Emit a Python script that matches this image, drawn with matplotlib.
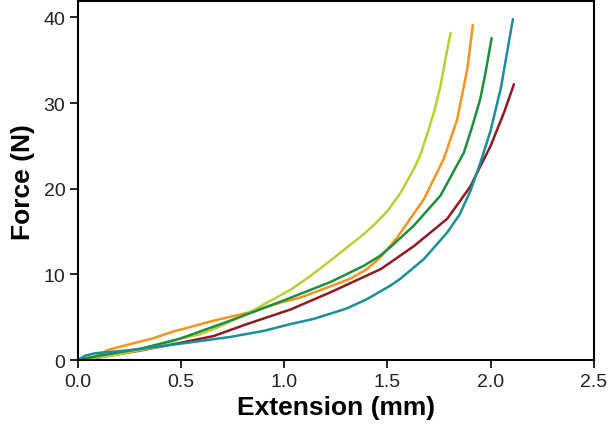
import matplotlib.pyplot as plt

plt.rcParams['font.family'] = ['Liberation Sans', 'DejaVu Sans']

# Extension (mm) / Force (N)
x_yellow = [0.0, 0.155, 0.40, 0.495, 0.59, 0.657, 0.82, 0.916, 1.03, 1.126, 1.223,
            1.385, 1.44, 1.50, 1.563, 1.63, 1.66, 1.69, 1.725, 1.757, 1.78, 1.806]
y_yellow = [0.0, 0.5, 1.6, 2.5, 3.0, 3.6, 5.4, 6.7, 8.2, 9.8, 11.6,
            14.7, 15.9, 17.4, 19.5, 22.4, 24.0, 26.2, 28.9, 32.0, 35.0, 38.2]

x_orange = [0.0, 0.08, 0.147, 0.26, 0.358, 0.471, 0.52, 0.657, 0.819, 0.98, 1.078, 1.223,
            1.32, 1.40, 1.466, 1.547, 1.677, 1.773, 1.838, 1.887, 1.914]
y_orange = [0.0, 0.4, 1.2, 1.9, 2.5, 3.4, 3.7, 4.6, 5.5, 6.7, 7.3, 8.6,
            9.5, 10.6, 12.0, 14.3, 18.8, 23.5, 28.1, 34.0, 39.1]

x_green = [0.0, 0.1, 0.3, 0.495, 0.738, 0.98, 1.223, 1.385, 1.466, 1.515, 1.628,
           1.757, 1.87, 1.91, 1.95, 1.975, 2.005]
y_green = [0.0, 0.5, 1.3, 2.5, 4.6, 6.8, 9.1, 11.0, 12.2, 13.2, 15.7,
           19.2, 24.2, 27.2, 30.5, 33.5, 37.6]

x_maroon = [0.0, 0.1, 0.3, 0.495, 0.657, 0.819, 1.03, 1.223, 1.466, 1.515, 1.628,
            1.79, 1.903, 1.935, 2.0, 2.065, 2.113]
y_maroon = [0.0, 0.3, 1.1, 2.0, 2.8, 4.2, 5.9, 7.9, 10.6, 11.4, 13.3,
            16.5, 20.3, 21.9, 25.0, 28.9, 32.2]

x_teal = [0.0, 0.034, 0.083, 0.228, 0.495, 0.738, 0.9, 1.03, 1.142, 1.30, 1.40, 1.515,
          1.563, 1.677, 1.79, 1.85, 1.903, 1.95, 2.0, 2.05, 2.108]
y_teal = [0.0, 0.5, 0.8, 1.1, 1.9, 2.7, 3.4, 4.2, 4.8, 6.0, 7.1, 8.7,
          9.5, 11.8, 14.9, 17.0, 19.8, 23.0, 26.8, 31.8, 39.8]

series = [
    (x_maroon, y_maroon, '#8c1c22'),
    (x_orange, y_orange, '#f7941e'),
    (x_yellow, y_yellow, '#bccf32'),
    (x_green, y_green, '#1b8f3f'),
    (x_teal, y_teal, '#1b8e98'),
]

fig = plt.figure(figsize=(6.09, 4.35), dpi=100)
ax = fig.add_axes([0.128, 0.170, 0.847, 0.825])

for xs, ys, c in series:
    ax.plot(xs, ys, color=c, lw=1.8, solid_capstyle='round', solid_joinstyle='round')

ax.set_xlim(0, 2.5)
ax.set_ylim(0, 41.9)
ax.set_xticks([0.0, 0.5, 1.0, 1.5, 2.0, 2.5])
ax.set_xticklabels(['0.0', '0.5', '1.0', '1.5', '2.0', '2.5'])
ax.set_yticks([0, 10, 20, 30, 40])
ax.tick_params(direction='out', length=6, width=1.2, labelsize=14, pad=3,
               labelcolor='#222222')
for s in ax.spines.values():
    s.set_linewidth(1.5)

ax.set_xlabel('Extension (mm)', fontsize=19, fontweight='bold', labelpad=4)
ax.set_ylabel('Force (N)', fontsize=19, fontweight='bold', labelpad=6)

fig.savefig('out.png', dpi=100)
